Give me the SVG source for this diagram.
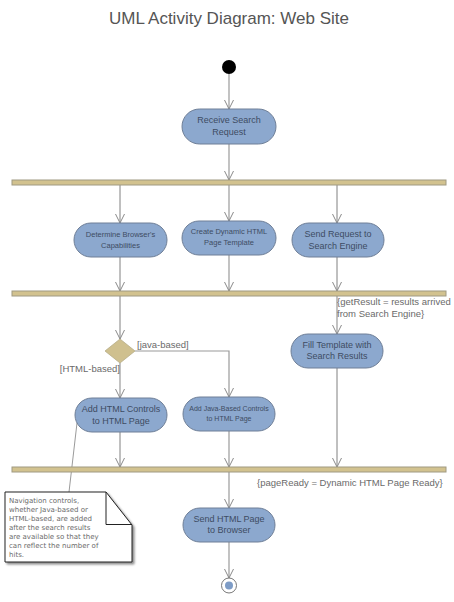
<svg xmlns="http://www.w3.org/2000/svg" width="454" height="602" viewBox="0 0 454 602">
<defs>
<marker id="arr" viewBox="-6 -10 12 12" refX="0" refY="0" markerWidth="12" markerHeight="12" markerUnits="userSpaceOnUse" orient="auto-start-reverse">
<path d="M-4.5,-9 L0,0 L4.5,-9" fill="none" stroke="#8a8a8a" stroke-width="1"/>
</marker>
<marker id="arrv" viewBox="-6 -10 12 12" refX="0" refY="0" markerWidth="12" markerHeight="12" markerUnits="userSpaceOnUse" orient="0">
<path d="M-4.5,-9 L0,0 L4.5,-9" fill="none" stroke="#8a8a8a" stroke-width="1"/>
</marker>
<filter id="sh" x="-10%" y="-10%" width="130%" height="130%">
<feDropShadow dx="2" dy="2" stdDeviation="1" flood-color="#000" flood-opacity="0.45"/>
</filter>
</defs>
<style>
.node{fill:#8CA8CE;stroke:#6F7F97;stroke-width:1}
.bar{fill:#D2C28F;stroke:#A09A82;stroke-width:1}
.t{font-family:"Liberation Sans",Arial,sans-serif;fill:#3E4C63;text-anchor:middle}
.c{fill:none;stroke:#9a9a9a;stroke-width:1.2;marker-end:url(#arrv)}
.cd{fill:none;stroke:#808080;stroke-width:1;marker-end:url(#arrv)}
.lbl{font-family:"Liberation Sans",Arial,sans-serif;fill:#6a6a6a;font-size:9.5px}
.note{font-family:"DejaVu Sans",Verdana,sans-serif;fill:#6a6a6a;font-size:7px}
</style>
<rect width="454" height="602" fill="#ffffff"/>
<text x="229" y="24" font-family="'Liberation Sans',Arial,sans-serif" font-size="17" fill="#555" text-anchor="middle">UML Activity Diagram: Web Site</text>

<g id="connectors">
<path class="c" d="M229,74 V109"/>
<path class="c" d="M229,144 V180"/>
<path class="cd" d="M120,185 V223"/>
<path class="c" d="M229,185 V221"/>
<path class="cd" d="M337,185 V223"/>
<path class="cd" d="M120,257 V291"/>
<path class="c" d="M229,255 V291"/>
<path class="cd" d="M337,257 V291"/>
<path class="cd" d="M120,296 V339"/>
<path class="c" d="M337,296 V334"/>
<path class="c" d="M120,363 V398"/>
<path class="c" d="M135,351 H229 V397"/>
<path class="cd" d="M120,432 V467"/>
<path class="c" d="M229,431 V467"/>
<path class="cd" d="M337,368 V467"/>
<path class="c" d="M229,472 V508"/>
<path class="c" d="M229,542 V578"/>
<path d="M77,423 L69,492" fill="none" stroke="#808080" stroke-width="0.8"/>
</g>

<g id="start"><circle cx="229" cy="67" r="7" fill="#000"/></g>

<g id="receive">
<rect class="node" x="182" y="109" width="94" height="35" rx="17.5"/>
<text class="t" font-size="9" x="229" y="123">Receive Search</text>
<text class="t" font-size="9" x="229" y="135">Request</text>
</g>

<g id="fork1"><rect class="bar" x="12" y="180" width="434" height="5"/></g>

<g id="determine">
<rect class="node" x="74" y="223" width="93" height="34" rx="17"/>
<text class="t" font-size="7.5" x="120.5" y="237">Determine Browser's</text>
<text class="t" font-size="7.5" x="120.5" y="248">Capabilities</text>
</g>

<g id="create">
<rect class="node" x="182" y="221" width="94" height="34" rx="17"/>
<text class="t" font-size="7.5" x="229" y="234">Create Dynamic HTML</text>
<text class="t" font-size="7.5" x="229" y="245">Page Template</text>
</g>

<g id="send">
<rect class="node" x="292" y="223" width="92" height="34" rx="17"/>
<text class="t" font-size="9" x="338" y="237">Send Request to</text>
<text class="t" font-size="9" x="338" y="248.5">Search Engine</text>
</g>

<g id="join1"><rect class="bar" x="12" y="291" width="434" height="5"/></g>
<text class="lbl" x="337" y="305">{getResult = results arrived</text>
<text class="lbl" x="337" y="316.5">from Search Engine}</text>

<g id="decision">
<polygon points="120,339 135,351 120,363 105,351" fill="#CFC08F" stroke="#B5AC88" stroke-width="0.8"/>
</g>
<text class="lbl" x="137" y="348">[java-based]</text>
<text class="lbl" x="120" y="371.5" text-anchor="end">[HTML-based]</text>

<g id="fill">
<rect class="node" x="291" y="334" width="92" height="34" rx="17"/>
<text class="t" font-size="9" x="337" y="347.5">Fill Template with</text>
<text class="t" font-size="9" x="337" y="359">Search Results</text>
</g>

<g id="addhtml">
<rect class="node" x="75" y="398" width="92" height="34" rx="17"/>
<text class="t" font-size="9" x="121" y="412">Add HTML Controls</text>
<text class="t" font-size="9" x="121" y="423.5">to HTML Page</text>
</g>

<g id="addjava">
<rect class="node" x="183" y="397" width="92" height="34" rx="17"/>
<text class="t" font-size="7" x="229" y="411">Add Java-Based Controls</text>
<text class="t" font-size="7" x="229" y="421">to HTML Page</text>
</g>

<g id="join2"><rect class="bar" x="12" y="467" width="434" height="5"/></g>
<text class="lbl" x="257" y="486">{pageReady = Dynamic HTML Page Ready}</text>

<g id="sendhtml">
<rect class="node" x="183" y="508" width="92" height="34" rx="17"/>
<text class="t" font-size="9" x="229" y="521.5">Send HTML Page</text>
<text class="t" font-size="9" x="229" y="533">to Browser</text>
</g>

<g id="end">
<circle cx="229" cy="585.5" r="7.5" fill="#fff" stroke="#777" stroke-width="1"/>
<circle cx="229" cy="585.5" r="4" fill="#7E9CC6"/>
</g>

<g id="note">
<polygon points="5,492 106,492 132,525 132,562 5,562" fill="#fff" stroke="#222" stroke-width="1" filter="url(#sh)"/>
<polyline points="106,492 106,524.5 132,524.5" fill="none" stroke="#222" stroke-width="1"/>
<text class="note" x="9" y="503">Navigation controls,</text>
<text class="note" x="9" y="512">whether Java-based or</text>
<text class="note" x="9" y="521">HTML-based, are added</text>
<text class="note" x="9" y="530">after the search results</text>
<text class="note" x="9" y="539">are available so that they</text>
<text class="note" x="9" y="548">can reflect the number of</text>
<text class="note" x="9" y="556.5">hits.</text>
</g>
</svg>
